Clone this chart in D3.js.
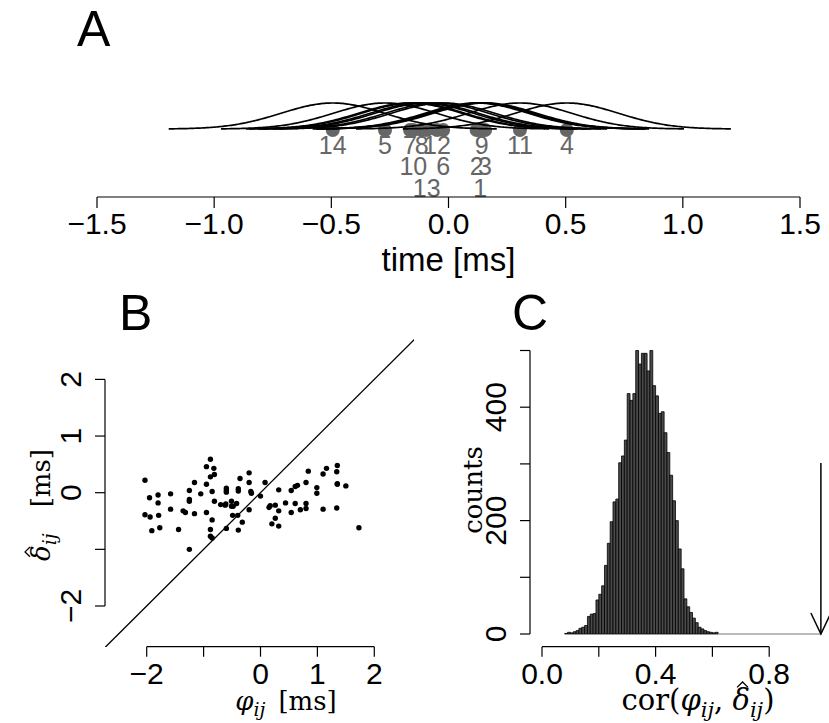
<!DOCTYPE html>
<html><head><meta charset="utf-8">
<script src="https://cdn.jsdelivr.net/npm/d3@7"></script>
<style>body{margin:0;background:#fff}svg{display:block}</style>
</head><body><svg id="c" width="829" height="723"></svg>
<script>
// ---------- data ----------
const neuronIds   = [1,2,3,4,5,6,7,8,9,10,11,12,13,14];
const neuronTimes = [0.135,0.12,0.156,0.505,-0.271,-0.023,-0.164,-0.114,0.142,-0.150,0.305,-0.049,-0.093,-0.494];
const labelLevel  = [3,2,2,1,1,2,1,1,1,2,1,1,3,1];
const curveSd = 0.22, curveHalfSpan = 0.7;
const timeTicks = [-1.5,-1.0,-0.5,0.0,0.5,1.0,1.5];

const phiVals = [-2.03,-1.95,-2.03,-1.94,-1.91,-1.80,-1.80,-1.79,-1.77,-1.58,-1.58,-1.44,-1.36,-1.32,-1.25,-1.25,-1.25,-1.25,-1.16,-1.16,
 -1.05,-0.95,-0.88,-0.82,-0.81,-0.88,-0.95,-0.85,-0.95,-0.85,-0.88,-0.88,-0.85,-0.81,-0.70,-0.62,-0.61,-0.60,-0.60,-0.60,
 -0.60,-0.51,-0.51,-0.48,-0.49,-0.42,-0.40,-0.39,-0.39,-0.36,-0.39,-0.32,-0.20,-0.20,-0.20,-0.17,-0.16,0.00,0.08,0.15,
 0.17,0.26,0.26,0.20,0.32,0.32,0.32,0.44,0.54,0.54,0.61,0.65,0.61,0.70,0.80,0.80,0.80,0.84,0.99,0.99,
 1.10,1.16,1.10,1.35,1.34,1.35,1.35,1.34,1.50,1.73];
const deltaVals = [0.22,-0.09,-0.39,-0.43,-0.67,-0.04,-0.18,-0.40,-0.62,-0.02,-0.29,-0.65,-0.32,-0.35,0.04,-0.12,-0.15,-1.00,0.18,-0.37,
 -0.02,0.46,0.59,0.43,0.32,0.28,0.15,0.02,-0.35,-0.48,-0.65,-0.77,-0.80,-0.15,-0.21,-0.22,-0.20,0.08,0.04,0.01,
 -0.63,-0.15,-0.24,-0.24,-0.40,-0.19,-0.40,0.07,0.03,0.25,-0.66,-0.52,0.35,0.18,-0.30,0.02,-0.01,-0.06,0.18,-0.26,
 -0.23,-0.22,-0.45,-0.55,0.05,-0.32,-0.59,-0.18,0.04,-0.35,0.11,0.13,-0.19,-0.30,0.18,-0.19,-0.28,0.38,0.09,-0.01,
 0.33,0.43,-0.29,0.48,0.37,0.16,0.15,-0.27,0.12,-0.62];
const bTicks = [-2,-1,0,1,2];
const bTickLabels = ["\u22122","","0","1","2"];
const bYTickLabels = ["\u22122","","0","1","2"];

const histStart = 0.08, histBin = 0.01;
const histCounts = [1,3,2,4,6,10,12,15,31,35,36,60,70,85,121,160,198,233,238,302,314,342,424,412,424,500,476,495,495,464,500,438,420,389,392,
 355,320,280,235,200,150,115,62,48,38,28,20,12,9,6,4,3,2,3];
const histEmptyEnd = 0.982;
const observedCor = 0.982;
const cXTicks = [0,0.2,0.4,0.6,0.8];
const cXTickLabels = ["0.0","","0.4","","0.8"];
const cYTicks = [0,100,200,300,400,500];
const cYTickLabels = ["0","","200","","400",""];

// ---------- drawing ----------
const svg = d3.select("#c");
const SANS = "Liberation Sans, Arial, Helvetica, sans-serif";
const SERIF = "DejaVu Serif, Liberation Serif, serif";
const grey = "#666666";
const TICKFS = 30, TITLEFS = 33;

[["A",77,46],["B",119,330],["C",512,330]].forEach(([t,x,y])=>{
  svg.append("text").attr("x",x).attr("y",y).attr("font-family",SANS).attr("font-size",50).text(t);
});

// ---- Panel A ----
const xA = d3.scaleLinear().domain([-1.5,1.5]).range([97,800]);
const yA = d3.scaleLinear().domain([0,1]).range([129,103]);
const axA = 197;
const gA = svg.append("g");
gA.selectAll("circle").data(neuronTimes).join("circle")
  .attr("cx",d=>xA(d)).attr("cy",130).attr("r",7).attr("fill",grey);
const line = d3.line().x(d=>xA(d[0])).y(d=>yA(d[1]));
neuronTimes.forEach(mu=>{
  const pts = d3.range(0,201).map(i=>{
    const t = mu - curveHalfSpan + i*(2*curveHalfSpan/200);
    return [t, Math.exp(-((t-mu)**2)/(2*curveSd*curveSd))];
  });
  gA.append("path").attr("d",line(pts)).attr("fill","none").attr("stroke","#000").attr("stroke-width",1.7);
});
const levelY = [154,175,197];
gA.selectAll("text.lab").data(neuronIds).join("text").attr("class","lab")
  .attr("x",(d,i)=>xA(neuronTimes[i])).attr("y",(d,i)=>levelY[labelLevel[i]-1])
  .attr("text-anchor","middle").attr("font-family",SANS).attr("font-size",25).attr("fill",grey).text(d=>d);
const axisG = svg.append("g").attr("stroke","#000").attr("stroke-width",1.2);
axisG.append("line").attr("x1",xA(-1.5)).attr("x2",xA(1.5)).attr("y1",axA).attr("y2",axA);
timeTicks.forEach(t=>{
  axisG.append("line").attr("x1",xA(t)).attr("x2",xA(t)).attr("y1",axA).attr("y2",axA+11);
  svg.append("text").attr("x",xA(t)).attr("y",234).attr("text-anchor","middle").attr("font-family",SANS).attr("font-size",TICKFS)
    .text(t.toFixed(1).replace("-","\u2212"));
});
svg.append("text").attr("x",xA(0)).attr("y",271).attr("text-anchor","middle").attr("font-family",SANS).attr("font-size",TITLEFS).text("time [ms]");

function mathLabel(g, parts, anchorX, baseY, fs){
  const sfs = Math.round(fs*0.72), sdy = Math.round(fs*0.23);
  const txt = g.append("text").attr("x",anchorX).attr("y",baseY).attr("text-anchor","middle")
    .attr("font-family",SERIF).attr("font-size",fs);
  let cur = 0, hats = [], idx = 0;
  parts.forEach(p=>{
    const ts = txt.append("tspan").text(p.t);
    if(p.it) ts.attr("font-style","italic");
    if(p.sub){ ts.attr("font-size",sfs).attr("dy",sdy-cur); cur = sdy; }
    else { ts.attr("dy",-cur); cur = 0; }
    if(p.hat) hats.push(idx);
    idx += p.t.length;
  });
  const node = txt.node();
  hats.forEach(ci=>{
    const e = node.getExtentOfChar(ci);
    const cx = e.x + e.width*0.58, top = e.y + e.height*0.1;
    const w = fs*0.19;
    g.append("path").attr("d",`M${cx-w},${top+1}L${cx},${top-w*0.8}L${cx+w},${top+1}`)
      .attr("fill","none").attr("stroke","#000").attr("stroke-width",1.3);
  });
}

// ---- Panel B ----
const xB = d3.scaleLinear().domain([-2,2]).range([146.7,374.3]);
const yB = d3.scaleLinear().domain([-2,2]).range([606,379.4]);
const clipB = {x0:105,x1:414,y0:339,y1:647};
svg.append("clipPath").attr("id","clipB").append("rect").attr("x",clipB.x0).attr("y",clipB.y0)
  .attr("width",clipB.x1-clipB.x0).attr("height",clipB.y1-clipB.y0);
svg.append("line").attr("clip-path","url(#clipB)").attr("x1",xB(-4)).attr("y1",yB(-4)).attr("x2",xB(4)).attr("y2",yB(4))
  .attr("stroke","#000").attr("stroke-width",1.3);
svg.append("g").selectAll("circle").data(phiVals).join("circle")
  .attr("cx",d=>xB(d)).attr("cy",(d,i)=>yB(deltaVals[i])).attr("r",2.7).attr("fill","#000");
const axB = 646.7, ayB = 105;
axisG.append("line").attr("x1",xB(-2)).attr("x2",xB(2)).attr("y1",axB).attr("y2",axB);
axisG.append("line").attr("x1",ayB).attr("x2",ayB).attr("y1",yB(-2)).attr("y2",yB(2));
bTicks.forEach((t,i)=>{
  axisG.append("line").attr("x1",xB(t)).attr("x2",xB(t)).attr("y1",axB).attr("y2",axB+10);
  axisG.append("line").attr("x1",ayB).attr("x2",ayB-10).attr("y1",yB(t)).attr("y2",yB(t));
  if(bTickLabels[i]) svg.append("text").attr("x",xB(t)).attr("y",684).attr("text-anchor","middle").attr("font-family",SANS).attr("font-size",TICKFS).text(bTickLabels[i]);
  if(bYTickLabels[i]) svg.append("text").attr("transform",`translate(${ayB-24},${yB(t)}) rotate(-90)`).attr("text-anchor","middle").attr("font-family",SANS).attr("font-size",TICKFS).text(bYTickLabels[i]);
});
mathLabel(svg.append("g"), [{t:"\u03C6",it:true},{t:"ij",it:true,sub:true},{t:"\u2002[ms]"}], 286, 710, 26);
mathLabel(svg.append("g").attr("transform","translate(50,505) rotate(-90)"),
  [{t:"\u03B4",it:true,hat:true},{t:"ij",it:true,sub:true},{t:"\u2002\u2002[ms]"}], 0, 0, 26);

// ---- Panel C ----
const xC = d3.scaleLinear().domain([0,1]).range([542,826]);
const yC = d3.scaleLinear().domain([0,500]).range([634,350.5]);
const gC = svg.append("g");
gC.selectAll("path").data(histCounts).join("path")
  .attr("d",(d,i)=>{
    const a = xC(histStart+i*histBin), b = xC(histStart+(i+1)*histBin);
    return `M${a},${yC(0)}V${yC(d)}H${b}V${yC(0)}Z`;
  })
  .attr("fill","#4a4a4a").attr("stroke","#000").attr("stroke-width",0.8);
gC.append("line").attr("x1",xC(histStart+histCounts.length*histBin)).attr("x2",xC(histEmptyEnd))
  .attr("y1",yC(0)).attr("y2",yC(0)).attr("stroke","#777").attr("stroke-width",1);
const ax0 = xC(observedCor);
const arrowG = svg.append("g").attr("stroke","#000").attr("stroke-width",1.5).attr("fill","none");
arrowG.append("line").attr("x1",ax0).attr("x2",ax0).attr("y1",463).attr("y2",yC(0));
arrowG.append("path").attr("d",`M${ax0-10},${yC(0)-21}L${ax0},${yC(0)}L${ax0+10},${yC(0)-21}`);
const axC = 646.7, ayC = 530;
axisG.append("line").attr("x1",xC(0)).attr("x2",xC(0.8)).attr("y1",axC).attr("y2",axC);
axisG.append("line").attr("x1",ayC).attr("x2",ayC).attr("y1",yC(0)).attr("y2",yC(500));
cXTicks.forEach((t,i)=>{
  axisG.append("line").attr("x1",xC(t)).attr("x2",xC(t)).attr("y1",axC).attr("y2",axC+10);
  if(cXTickLabels[i]) svg.append("text").attr("x",xC(t)).attr("y",684).attr("text-anchor","middle").attr("font-family",SANS).attr("font-size",TICKFS).text(cXTickLabels[i]);
});
cYTicks.forEach((t,i)=>{
  axisG.append("line").attr("x1",ayC).attr("x2",ayC-10).attr("y1",yC(t)).attr("y2",yC(t));
  if(cYTickLabels[i]) svg.append("text").attr("transform",`translate(${ayC-24},${yC(t)}) rotate(-90)`).attr("text-anchor","middle").attr("font-family",SANS).attr("font-size",TICKFS).text(cYTickLabels[i]);
});
svg.append("text").attr("transform","translate(482,490) rotate(-90)").attr("text-anchor","middle").attr("font-family",SERIF).attr("font-size",26).text("counts");
mathLabel(svg.append("g"), [{t:"cor("},{t:"\u03C6",it:true},{t:"ij",it:true,sub:true},{t:", "},{t:"\u03B4",it:true,hat:true},{t:"ij",it:true,sub:true},{t:")"}], 698, 710, 29);
</script></body></html>
